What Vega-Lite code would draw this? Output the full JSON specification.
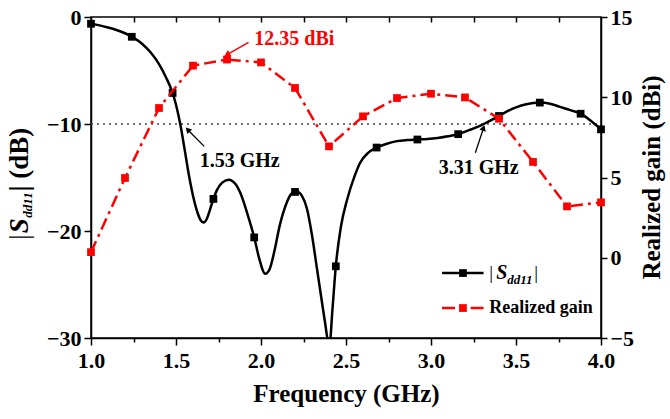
{
  "$schema": "https://vega.github.io/schema/vega-lite/v6.json",
  "width": 510,
  "height": 321,
  "autosize": {"type": "none"},
  "padding": {"left": 91, "top": 17, "right": 69, "bottom": 81},
  "config": {
    "view": {"stroke": "black", "strokeWidth": 1.5},
    "axis": {
      "grid": false,
      "domainColor": "black",
      "domainWidth": 1.5,
      "tickColor": "black",
      "tickWidth": 1.5,
      "labelFont": "serif",
      "labelFontWeight": "bold",
      "labelFontSize": 22,
      "labelColor": "black",
      "labelFlush": false,
      "titleFont": "serif",
      "titleFontWeight": "bold",
      "titleFontSize": 25,
      "titleColor": "black"
    },
    "text": {"font": "serif", "fontWeight": "bold", "color": "black"}
  },
  "datasets": {
    "band": [{"freq": 1.53, "freq_end": 3.31}],
    "threshold": [{"freq": 1.0, "freq_end": 4.0, "db": -10}],
    "sdd11": [
      {"freq": 1.0, "db": -0.63}, {"freq": 1.05, "db": -0.78}, {"freq": 1.1, "db": -0.98},
      {"freq": 1.15, "db": -1.22}, {"freq": 1.2, "db": -1.52}, {"freq": 1.247, "db": -1.9},
      {"freq": 1.3, "db": -2.5}, {"freq": 1.35, "db": -3.3}, {"freq": 1.4, "db": -4.4},
      {"freq": 1.44, "db": -5.6}, {"freq": 1.48, "db": -7.1}, {"freq": 1.5, "db": -8.2},
      {"freq": 1.525, "db": -10.0}, {"freq": 1.55, "db": -12.3}, {"freq": 1.575, "db": -14.7},
      {"freq": 1.6, "db": -16.7}, {"freq": 1.625, "db": -18.2}, {"freq": 1.645, "db": -19.0},
      {"freq": 1.662, "db": -19.2}, {"freq": 1.68, "db": -18.9}, {"freq": 1.7, "db": -18.0},
      {"freq": 1.718, "db": -17.1}, {"freq": 1.74, "db": -16.2}, {"freq": 1.77, "db": -15.5},
      {"freq": 1.81, "db": -15.2}, {"freq": 1.85, "db": -15.6}, {"freq": 1.88, "db": -16.5},
      {"freq": 1.92, "db": -18.4}, {"freq": 1.96, "db": -20.6}, {"freq": 1.99, "db": -22.6},
      {"freq": 2.025, "db": -24.0}, {"freq": 2.05, "db": -23.6}, {"freq": 2.08, "db": -21.8},
      {"freq": 2.11, "db": -19.5}, {"freq": 2.15, "db": -17.4}, {"freq": 2.18, "db": -16.5},
      {"freq": 2.21, "db": -16.3}, {"freq": 2.24, "db": -16.7}, {"freq": 2.27, "db": -17.9},
      {"freq": 2.3, "db": -20.4}, {"freq": 2.33, "db": -23.6}, {"freq": 2.36, "db": -26.8},
      {"freq": 2.38, "db": -28.9}, {"freq": 2.395, "db": -30.3}, {"freq": 2.405, "db": -30.3},
      {"freq": 2.42, "db": -27.4}, {"freq": 2.44, "db": -23.3}, {"freq": 2.47, "db": -19.6},
      {"freq": 2.506, "db": -17.1}, {"freq": 2.55, "db": -14.9}, {"freq": 2.584, "db": -13.6},
      {"freq": 2.63, "db": -12.7}, {"freq": 2.68, "db": -12.2}, {"freq": 2.74, "db": -11.85},
      {"freq": 2.8, "db": -11.6}, {"freq": 2.86, "db": -11.5}, {"freq": 2.92, "db": -11.45},
      {"freq": 2.98, "db": -11.4}, {"freq": 3.04, "db": -11.3}, {"freq": 3.1, "db": -11.15},
      {"freq": 3.16, "db": -10.95}, {"freq": 3.22, "db": -10.6}, {"freq": 3.27, "db": -10.3},
      {"freq": 3.31, "db": -10.0}, {"freq": 3.36, "db": -9.6}, {"freq": 3.4, "db": -9.25},
      {"freq": 3.45, "db": -8.8}, {"freq": 3.5, "db": -8.45}, {"freq": 3.56, "db": -8.15},
      {"freq": 3.64, "db": -8.0}, {"freq": 3.7, "db": -8.1}, {"freq": 3.76, "db": -8.4},
      {"freq": 3.82, "db": -8.7}, {"freq": 3.88, "db": -9.04}, {"freq": 3.94, "db": -9.7},
      {"freq": 4.0, "db": -10.5}
    ],
    "sdd11_markers": [
      {"freq": 1.0, "db": -0.63}, {"freq": 1.24, "db": -1.85}, {"freq": 1.48, "db": -7.1},
      {"freq": 1.72, "db": -17.0}, {"freq": 1.96, "db": -20.6}, {"freq": 2.2, "db": -16.35},
      {"freq": 2.44, "db": -23.3}, {"freq": 2.68, "db": -12.2}, {"freq": 2.92, "db": -11.45},
      {"freq": 3.16, "db": -10.95}, {"freq": 3.4, "db": -9.25}, {"freq": 3.64, "db": -8.0},
      {"freq": 3.88, "db": -9.04}, {"freq": 4.0, "db": -10.5}
    ],
    "gain": [
      {"freq": 1.0, "gain": 0.35}, {"freq": 1.2, "gain": 4.97}, {"freq": 1.4, "gain": 9.33},
      {"freq": 1.6, "gain": 11.97}, {"freq": 1.8, "gain": 12.35}, {"freq": 2.0, "gain": 12.17},
      {"freq": 2.2, "gain": 10.58}, {"freq": 2.4, "gain": 6.94}, {"freq": 2.6, "gain": 8.81},
      {"freq": 2.8, "gain": 9.95}, {"freq": 3.0, "gain": 10.22}, {"freq": 3.2, "gain": 9.99},
      {"freq": 3.4, "gain": 8.66}, {"freq": 3.6, "gain": 5.97}, {"freq": 3.8, "gain": 3.2},
      {"freq": 4.0, "gain": 3.45}
    ]
  },
  "layer": [
    {
      "encoding": {
        "x": {
          "field": "freq",
          "type": "quantitative",
          "scale": {"domain": [1, 4], "nice": false, "zero": false},
          "axis": {
            "title": "Frequency (GHz)",
            "values": [1, 1.25, 1.5, 1.75, 2, 2.25, 2.5, 2.75, 3, 3.25, 3.5, 3.75, 4],
            "labelExpr": "datum.value % 0.5 === 0 ? format(datum.value, '.1f') : ''",
            "tickSize": {"condition": {"test": "datum.value % 0.5 === 0", "value": 7}, "value": 4},
            "labelPadding": 5,
            "titlePadding": 10
          }
        },
        "y": {
          "field": "db",
          "type": "quantitative",
          "scale": {"domain": [-30, 0], "nice": false, "zero": false},
          "axis": {
            "title": null,
            "values": [0, -10, -20, -30],
            "tickSize": 7,
            "labelPadding": 3
          }
        }
      },
      "layer": [
        {
          "data": {"name": "band"},
          "mark": {"type": "rect", "color": "#e3fbf4"},
          "encoding": {
            "x2": {"field": "freq_end"},
            "y": {"datum": -30},
            "y2": {"datum": 0}
          }
        },
        {
          "data": {"name": "threshold"},
          "mark": {"type": "rule", "color": "#444444", "strokeWidth": 1.5, "strokeDash": [2, 4]},
          "encoding": {"x2": {"field": "freq_end"}}
        },
        {
          "data": {"name": "sdd11"},
          "mark": {"type": "line", "color": "black", "strokeWidth": 2.5, "interpolate": "monotone", "clip": true}
        },
        {
          "data": {"name": "sdd11_markers"},
          "mark": {"type": "square", "color": "black", "opacity": 1, "size": 60}
        },
        {
          "data": {"values": [{"freq": 1.666, "db": -12.09, "freq_end": 1.569, "db_end": -10.53}]},
          "mark": {"type": "rule", "color": "black", "strokeWidth": 1.3},
          "encoding": {"x2": {"field": "freq_end"}, "y2": {"field": "db_end"}}
        },
        {
          "data": {"values": [{"freq": 1.569, "db": -10.53}]},
          "mark": {"type": "point", "shape": "triangle-up", "filled": true, "color": "black", "opacity": 1, "size": 45, "angle": 316}
        },
        {
          "data": {"values": [{"freq": 3.261, "db": -12.68, "freq_end": 3.309, "db_end": -10.37}]},
          "mark": {"type": "rule", "color": "black", "strokeWidth": 1.3},
          "encoding": {"x2": {"field": "freq_end"}, "y2": {"field": "db_end"}}
        },
        {
          "data": {"values": [{"freq": 3.309, "db": -10.37}]},
          "mark": {"type": "point", "shape": "triangle-up", "filled": true, "color": "black", "opacity": 1, "size": 45, "angle": 19}
        },
        {
          "data": {"values": [{"freq": 1.639, "db": -13.43, "label": "1.53 GHz"}, {"freq": 3.045, "db": -14.08, "label": "3.31 GHz"}]},
          "mark": {"type": "text", "align": "left", "baseline": "middle", "fontSize": 20},
          "encoding": {"text": {"field": "label"}}
        },
        {
          "data": {"values": [{"freq": 3.065, "freq_end": 3.309, "db": -23.93}]},
          "mark": {"type": "rule", "color": "black", "strokeWidth": 2.5},
          "encoding": {"x2": {"field": "freq_end"}}
        },
        {
          "data": {"values": [{"freq": 3.188, "db": -23.93}]},
          "mark": {"type": "square", "color": "black", "opacity": 1, "size": 60}
        },
        {
          "data": {"values": [{"freq": 3.343, "db": -23.93, "label": "|"}]},
          "mark": {"type": "text", "align": "left", "baseline": "middle", "fontSize": 19, "fontWeight": "normal"},
          "encoding": {"text": {"field": "label"}}
        },
        {
          "data": {"values": [{"freq": 3.343, "db": -23.93, "label": "|"}]},
          "mark": {"type": "text", "align": "left", "baseline": "middle", "fontSize": 19, "fontWeight": "normal", "dx": 45},
          "encoding": {"text": {"field": "label"}}
        },
        {
          "data": {"values": [{"freq": 3.343, "db": -23.93, "label": "S"}]},
          "mark": {"type": "text", "align": "left", "baseline": "middle", "fontSize": 20, "fontStyle": "italic", "dx": 7},
          "encoding": {"text": {"field": "label"}}
        },
        {
          "data": {"values": [{"freq": 3.343, "db": -23.93, "label": "dd11"}]},
          "mark": {"type": "text", "align": "left", "baseline": "middle", "fontSize": 13, "fontStyle": "italic", "dx": 18, "dy": 7},
          "encoding": {"text": {"field": "label"}}
        },
        {
          "data": {"values": [{"freq": 3.065, "freq_end": 3.309, "db": -27.2}]},
          "mark": {"type": "rule", "color": "#ff0000", "strokeWidth": 2.5, "strokeDash": [13, 15.6]},
          "encoding": {"x2": {"field": "freq_end"}}
        },
        {
          "data": {"values": [{"freq": 3.188, "db": -27.2}]},
          "mark": {"type": "square", "color": "#ff0000", "opacity": 1, "size": 60}
        },
        {
          "data": {"values": [{"freq": 3.343, "db": -27.2, "label": "Realized gain"}]},
          "mark": {"type": "text", "align": "left", "baseline": "middle", "fontSize": 18},
          "encoding": {"text": {"field": "label"}}
        },
        {
          "data": {"values": [{"freq": 0.584, "db": -20.81, "label": "|"}]},
          "mark": {"type": "text", "align": "left", "baseline": "middle", "fontSize": 27, "fontWeight": "normal", "angle": 270},
          "encoding": {"text": {"field": "label"}}
        },
        {
          "data": {"values": [{"freq": 0.584, "db": -20.2, "label": "S"}]},
          "mark": {"type": "text", "align": "left", "baseline": "middle", "fontSize": 27, "fontStyle": "italic", "angle": 270},
          "encoding": {"text": {"field": "label"}}
        },
        {
          "data": {"values": [{"freq": 0.628, "db": -18.75, "label": "dd11"}]},
          "mark": {"type": "text", "align": "left", "baseline": "middle", "fontSize": 13, "fontStyle": "italic", "angle": 270},
          "encoding": {"text": {"field": "label"}}
        },
        {
          "data": {"values": [{"freq": 0.584, "db": -16.3, "label": "| (dB)"}]},
          "mark": {"type": "text", "align": "left", "baseline": "middle", "fontSize": 27, "angle": 270},
          "encoding": {"text": {"field": "label"}}
        }
      ]
    },
    {
      "encoding": {
        "x": {
          "field": "freq",
          "type": "quantitative",
          "scale": {"domain": [1, 4], "nice": false, "zero": false},
          "axis": {
            "orient": "top",
            "title": null,
            "labels": false,
            "domain": false,
            "values": [1.25, 1.5, 1.75, 2, 2.25, 2.5, 2.75, 3, 3.25, 3.5, 3.75],
            "tickSize": -5
          }
        },
        "y": {
          "field": "gain",
          "type": "quantitative",
          "scale": {"domain": [-5, 15], "nice": false, "zero": false},
          "axis": {
            "orient": "right",
            "title": "Realized gain (dBi)",
            "titleAngle": 270,
            "titleAlign": "center",
            "titleBaseline": "middle",
            "titleX": 50,
            "titleY": 160,
            "values": [-5, 0, 5, 10, 15],
            "tickSize": 6,
            "labelPadding": 3
          }
        }
      },
      "layer": [
        {
          "data": {"name": "gain"},
          "mark": {"type": "line", "color": "#ff0000", "strokeWidth": 2.5, "strokeDash": [12, 5, 3, 5]}
        },
        {
          "data": {"name": "gain"},
          "mark": {"type": "square", "color": "#ff0000", "opacity": 1, "size": 60}
        },
        {
          "data": {"values": [{"freq": 1.927, "gain": 13.42, "freq_end": 1.8, "gain_end": 12.65}]},
          "mark": {"type": "rule", "color": "#ff0000", "strokeWidth": 1.5},
          "encoding": {"x2": {"field": "freq_end"}, "y2": {"field": "gain_end"}}
        },
        {
          "data": {"values": [{"freq": 1.8, "gain": 12.65}]},
          "mark": {"type": "point", "shape": "triangle-up", "filled": true, "color": "#ff0000", "opacity": 1, "size": 50, "angle": 240}
        },
        {
          "data": {"values": [{"freq": 1.961, "gain": 13.63, "label": "12.35 dBi"}]},
          "mark": {"type": "text", "align": "left", "baseline": "middle", "fontSize": 20, "color": "#ff0000"},
          "encoding": {"text": {"field": "label"}}
        }
      ]
    }
  ],
  "resolve": {"scale": {"y": "independent"}, "axis": {"x": "independent"}}
}
